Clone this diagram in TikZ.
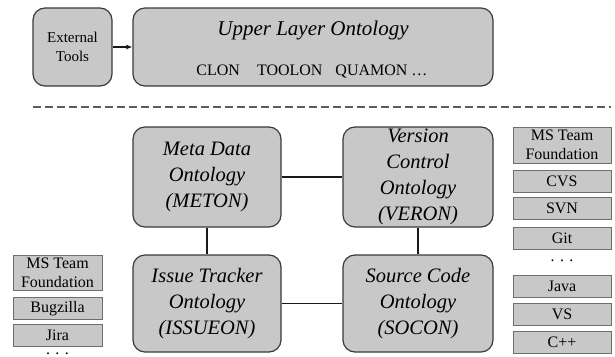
\documentclass[tikz,border=0pt]{standalone}
\usepackage{fontspec}
\setmainfont{Liberation Serif}
\usetikzlibrary{arrows.meta}
\definecolor{boxfill}{HTML}{C8C8C8}
\definecolor{boxline}{HTML}{3A3A3A}
\definecolor{smallline}{HTML}{6E6E6E}
\definecolor{dashcol}{HTML}{5A5A5A}
\begin{document}
\begin{tikzpicture}[x=1pt,y=-1pt,
  bigbox/.style={draw=boxline,fill=boxfill,line width=1.2pt,rounded corners=12pt,inner sep=0pt,align=center},
  midbox/.style={bigbox,font=\fontsize{20.5}{26}\selectfont\itshape},
  smallbox/.style={draw=smallline,fill=boxfill,line width=1pt,inner sep=0pt,minimum width=89pt,minimum height=22pt,align=center,font=\fontsize{16}{19}\selectfont},
  rsmall/.style={smallbox,minimum width=98pt},
  dotsnode/.style={font=\fontsize{16}{19}\selectfont,anchor=base,inner sep=0pt,text height=2pt,text depth=0pt},
  link/.style={line width=1.8pt,draw=black!90}
]
\useasboundingbox (0,0) rectangle (615,356);

% top layer
\node[bigbox,minimum width=79pt,minimum height=78pt,font=\fontsize{15}{19}\selectfont] (ext) at (72.5,47) {External\\Tools};
\node[bigbox,minimum width=360pt,minimum height=78pt] (upper) at (313,47) {};
\node[font=\fontsize{21}{25}\selectfont\itshape] (uptitle) at (313,30) {Upper Layer Ontology};
\node[font=\fontsize{16}{19}\selectfont] (upsub) at (312,71) {CLON\hspace{17pt}TOOLON\hspace{13pt}QUAMON …};
\draw[link,-{Latex[length=6pt,width=5pt]}] (ext) -- (upper);

% separator
\coordinate (dl) at (33,107);
\coordinate (dr) at (611,107);
\draw[dashcol,line width=2.6pt,dash pattern=on 8pt off 4pt] (dl) -- (dr);

% middle ontologies
\node[midbox,minimum width=148pt,minimum height=100pt] (meta) at (207,177) {Meta Data\\Ontology\\(METON)};
\node[midbox,minimum width=150pt,minimum height=100pt] (veron) at (418,177) {Version\\Control\\Ontology\\(VERON)};
\node[midbox,minimum width=148pt,minimum height=97pt] (issue) at (207,303.5) {Issue Tracker\\Ontology\\(ISSUEON)};
\node[midbox,minimum width=150pt,minimum height=97pt] (socon) at (418,303.5) {Source Code\\Ontology\\(SOCON)};

\draw[link] (meta) -- (veron);
\draw[link] (meta) -- (issue);
\draw[link] (veron) -- (socon);
\draw[link] (issue) -- (socon);

% left tools
\node[smallbox,minimum height=35pt] (lms) at (57.5,272.5) {MS Team\\Foundation};
\node[smallbox] (bugz) at (57.5,308.5) {Bugzilla};
\node[smallbox] (jira) at (57.5,335) {Jira};
\node[dotsnode] (ldots) at (57.5,354.5) {. . .};

% right tools
\node[rsmall,minimum height=36pt] (rms) at (562,145) {MS Team\\Foundation};
\node[rsmall] (cvs) at (562,181) {CVS};
\node[rsmall] (svn) at (562,208) {SVN};
\node[rsmall] (git) at (562,238) {Git};
\node[dotsnode] (rdots) at (562,261) {. . .};
\node[rsmall] (java) at (562,286.5) {Java};
\node[rsmall] (vs) at (562,314.5) {VS};
\node[rsmall] (cpp) at (562,342.5) {C++};
\end{tikzpicture}
\end{document}
